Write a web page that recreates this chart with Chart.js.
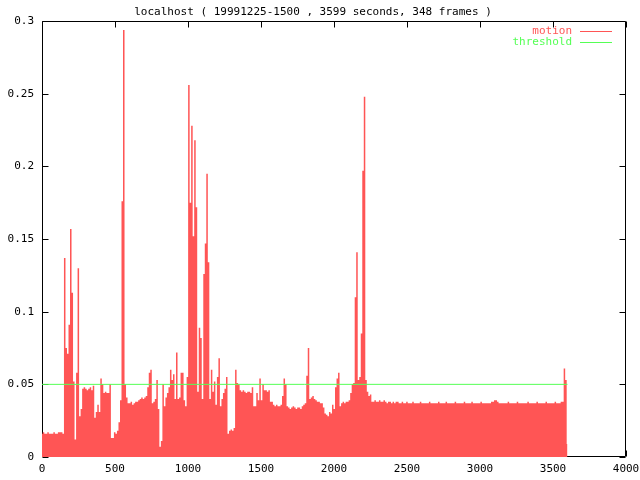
<!DOCTYPE html>
<html>
<head>
<meta charset="utf-8">
<title>localhost motion</title>
<script src="https://cdn.jsdelivr.net/npm/chart.js@4/dist/chart.umd.min.js"></script>
<style>
  html, body { margin: 0; padding: 0; background: #fff; }
  #chart { display: block; }
</style>
</head>
<body>
<canvas id="chart" width="640" height="480"></canvas>
<script>
// Motion log for one camera session, gnuplot look

const titleText = 'localhost ( 19991225-1500 , 3599 seconds, 348 frames )';
const durationSec = 3599;
const frameCount = 348;
const thresholdValue = 0.05;

const xTicks = [0, 500, 1000, 1500, 2000, 2500, 3000, 3500, 4000];
const yTicks = [0, 0.05, 0.1, 0.15, 0.2, 0.25, 0.3];

// one value per frame
const motion = [
  0.016, 0.017, 0.016, 0.016, 0.017, 0.016, 0.016, 0.016, 0.017, 0.016,
  0.016, 0.017, 0.017, 0.017, 0.016, 0.137, 0.075, 0.071, 0.091, 0.157,
  0.113, 0.052, 0.012, 0.058, 0.130, 0.028, 0.033, 0.047, 0.048, 0.047,
  0.046, 0.047, 0.048, 0.046, 0.049, 0.027, 0.031, 0.036, 0.031, 0.054,
  0.050, 0.044, 0.045, 0.044, 0.044, 0.050, 0.013, 0.013, 0.017, 0.016,
  0.018, 0.024, 0.039, 0.176, 0.294, 0.050, 0.041, 0.037, 0.037, 0.038,
  0.036, 0.037, 0.038, 0.038, 0.039, 0.040, 0.041, 0.040, 0.041, 0.042,
  0.048, 0.058, 0.060, 0.037, 0.038, 0.040, 0.053, 0.033, 0.007, 0.011,
  0.050, 0.035, 0.041, 0.044, 0.048, 0.060, 0.053, 0.057, 0.040, 0.072,
  0.040, 0.041, 0.058, 0.058, 0.039, 0.035, 0.055, 0.256, 0.175, 0.228,
  0.152, 0.218, 0.172, 0.045, 0.089, 0.082, 0.040, 0.126, 0.147, 0.195,
  0.134, 0.040, 0.060, 0.045, 0.052, 0.036, 0.055, 0.068, 0.035, 0.040,
  0.044, 0.047, 0.055, 0.016, 0.018, 0.019, 0.018, 0.020, 0.060, 0.051,
  0.050, 0.046, 0.045, 0.046, 0.045, 0.044, 0.045, 0.045, 0.044, 0.048,
  0.035, 0.035, 0.044, 0.039, 0.054, 0.039, 0.050, 0.046, 0.046, 0.045,
  0.046, 0.038, 0.038, 0.036, 0.035, 0.036, 0.035, 0.035, 0.036, 0.042,
  0.054, 0.050, 0.035, 0.034, 0.033, 0.034, 0.035, 0.034, 0.033, 0.034,
  0.034, 0.033, 0.035, 0.036, 0.037, 0.056, 0.075, 0.040, 0.041, 0.042,
  0.040, 0.039, 0.038, 0.038, 0.037, 0.037, 0.034, 0.030, 0.029, 0.028,
  0.031, 0.030, 0.036, 0.033, 0.048, 0.054, 0.058, 0.035, 0.037, 0.038,
  0.037, 0.038, 0.038, 0.039, 0.044, 0.050, 0.051, 0.110, 0.141, 0.053,
  0.055, 0.085, 0.197, 0.248, 0.053, 0.045, 0.042, 0.043, 0.038, 0.038,
  0.039, 0.038, 0.038, 0.039, 0.038, 0.038, 0.039, 0.038, 0.037, 0.038,
  0.038, 0.037, 0.038, 0.037, 0.038, 0.038, 0.037, 0.037, 0.038, 0.037,
  0.037, 0.038, 0.037, 0.037, 0.037, 0.038, 0.037, 0.037, 0.037, 0.037,
  0.038, 0.037, 0.037, 0.037, 0.037, 0.037, 0.038, 0.037, 0.037, 0.037,
  0.037, 0.037, 0.038, 0.037, 0.037, 0.037, 0.037, 0.038, 0.037, 0.037,
  0.037, 0.037, 0.037, 0.038, 0.037, 0.037, 0.037, 0.037, 0.037, 0.038,
  0.037, 0.037, 0.037, 0.037, 0.038, 0.037, 0.037, 0.037, 0.037, 0.037,
  0.038, 0.037, 0.037, 0.037, 0.037, 0.037, 0.037, 0.038, 0.038, 0.039,
  0.039, 0.038, 0.037, 0.037, 0.037, 0.037, 0.037, 0.037, 0.038, 0.037,
  0.037, 0.037, 0.037, 0.037, 0.038, 0.037, 0.037, 0.037, 0.037, 0.037,
  0.037, 0.038, 0.037, 0.037, 0.037, 0.037, 0.037, 0.038, 0.037, 0.037,
  0.037, 0.037, 0.037, 0.038, 0.037, 0.037, 0.037, 0.037, 0.037, 0.038,
  0.037, 0.037, 0.037, 0.038, 0.038, 0.061, 0.053, 0.009
];

// frames are spread over the session length given in the title
const frameSeconds = motion.map((_, i) => i * durationSec / (frameCount - 1));

const RED = '#ff5555';
const GREEN = '#55ff55';
const FONT = { family: '"DejaVu Sans Mono", "Liberation Mono", monospace', size: 11, weight: 'normal' };
const FONT_CSS = '11px "DejaVu Sans Mono", "Liberation Mono", monospace';

// gnuplot style box with inward ticks on all four sides
const gnuplotFrame = {
    id: 'gnuplotFrame',
    beforeDatasetsDraw(chart) {
        const { ctx, chartArea: a, scales: { x, y } } = chart;
        const L = Math.round(a.left) + 0.5, R = Math.round(a.right) - 0.5;
        const T = Math.round(a.top) + 0.5, B = Math.round(a.bottom) - 0.5;
        const len = 6;
        ctx.save();
        ctx.strokeStyle = '#000';
        ctx.lineWidth = 1;
        ctx.beginPath();
        ctx.rect(L, T, R - L, B - T);
        xTicks.forEach(v => {
            const px = Math.round(x.getPixelForValue(v)) + 0.5;
            ctx.moveTo(px, B); ctx.lineTo(px, B - len);
            ctx.moveTo(px, T); ctx.lineTo(px, T + len);
        });
        yTicks.forEach(v => {
            const py = Math.round(y.getPixelForValue(v)) + 0.5;
            ctx.moveTo(L, py); ctx.lineTo(L + len, py);
            ctx.moveTo(R, py); ctx.lineTo(R - len, py);
        });
        ctx.stroke();
        ctx.restore();
    },
    afterDatasetsDraw(chart) {
        const { ctx, chartArea: a } = chart;
        const items = [
            { text: 'motion', color: RED, y: a.top + 10 },
            { text: 'threshold', color: GREEN, y: a.top + 21 }
        ];
        ctx.save();
        ctx.font = FONT_CSS;
        ctx.textAlign = 'right';
        ctx.textBaseline = 'middle';
        ctx.lineWidth = 1;
        items.forEach(it => {
            ctx.fillStyle = it.color;
            ctx.fillText(it.text, a.right - 54, it.y);
            ctx.strokeStyle = it.color;
            ctx.beginPath();
            ctx.moveTo(a.right - 46, Math.round(it.y) + 0.5);
            ctx.lineTo(a.right - 14, Math.round(it.y) + 0.5);
            ctx.stroke();
        });
        ctx.restore();
    }
};

new Chart(document.getElementById('chart'), {
    type: 'line',
    data: {
        datasets: [
            {
                label: 'threshold',
                data: [
                    { x: frameSeconds[0], y: thresholdValue },
                    { x: frameSeconds[frameCount - 1], y: thresholdValue }
                ],
                borderColor: GREEN,
                borderWidth: 1,
                pointRadius: 0,
                fill: false,
                order: 0
            },
            {
                label: 'motion',
                data: motion.map((v, i) => ({ x: frameSeconds[i], y: v })),
                stepped: 'middle',
                fill: 'origin',
                backgroundColor: RED,
                borderColor: 'rgba(0,0,0,0)',
                borderWidth: 1,
                pointRadius: 0,
                order: 1
            }
        ]
    },
    options: {
        responsive: false,
        animation: false,
        devicePixelRatio: 1,
        layout: { padding: { left: 0, right: 14, top: 0, bottom: 0 } },
        plugins: {
            legend: { display: false },
            tooltip: { enabled: false },
            title: {
                display: true,
                text: titleText,
                color: '#000',
                font: FONT,
                padding: { top: 6, bottom: 2 }
            }
        },
        scales: {
            x: {
                type: 'linear',
                min: 0,
                max: 4000,
                afterBuildTicks: s => { s.ticks = xTicks.map(v => ({ value: v })); },
                afterFit: s => { s.height = 23; s.paddingLeft = 0; s.paddingRight = 0; },
                grid: { display: false, drawTicks: false, tickLength: 0 },
                border: { display: false },
                ticks: {
                    color: '#000',
                    font: FONT,
                    padding: 6,
                    maxRotation: 0,
                    autoSkip: false,
                    callback: v => String(v)
                }
            },
            y: {
                min: 0,
                max: 0.3,
                afterBuildTicks: s => { s.ticks = yTicks.map(v => ({ value: v })); },
                afterFit: s => { s.width = 42; s.paddingTop = 0; s.paddingBottom = 0; },
                grid: { display: false, drawTicks: false, tickLength: 0 },
                border: { display: false },
                ticks: {
                    color: '#000',
                    font: FONT,
                    padding: 8,
                    autoSkip: false,
                    callback: v => String(Math.round(v * 100) / 100)
                }
            }
        }
    },
    plugins: [gnuplotFrame]
});
</script>
</body>
</html>
